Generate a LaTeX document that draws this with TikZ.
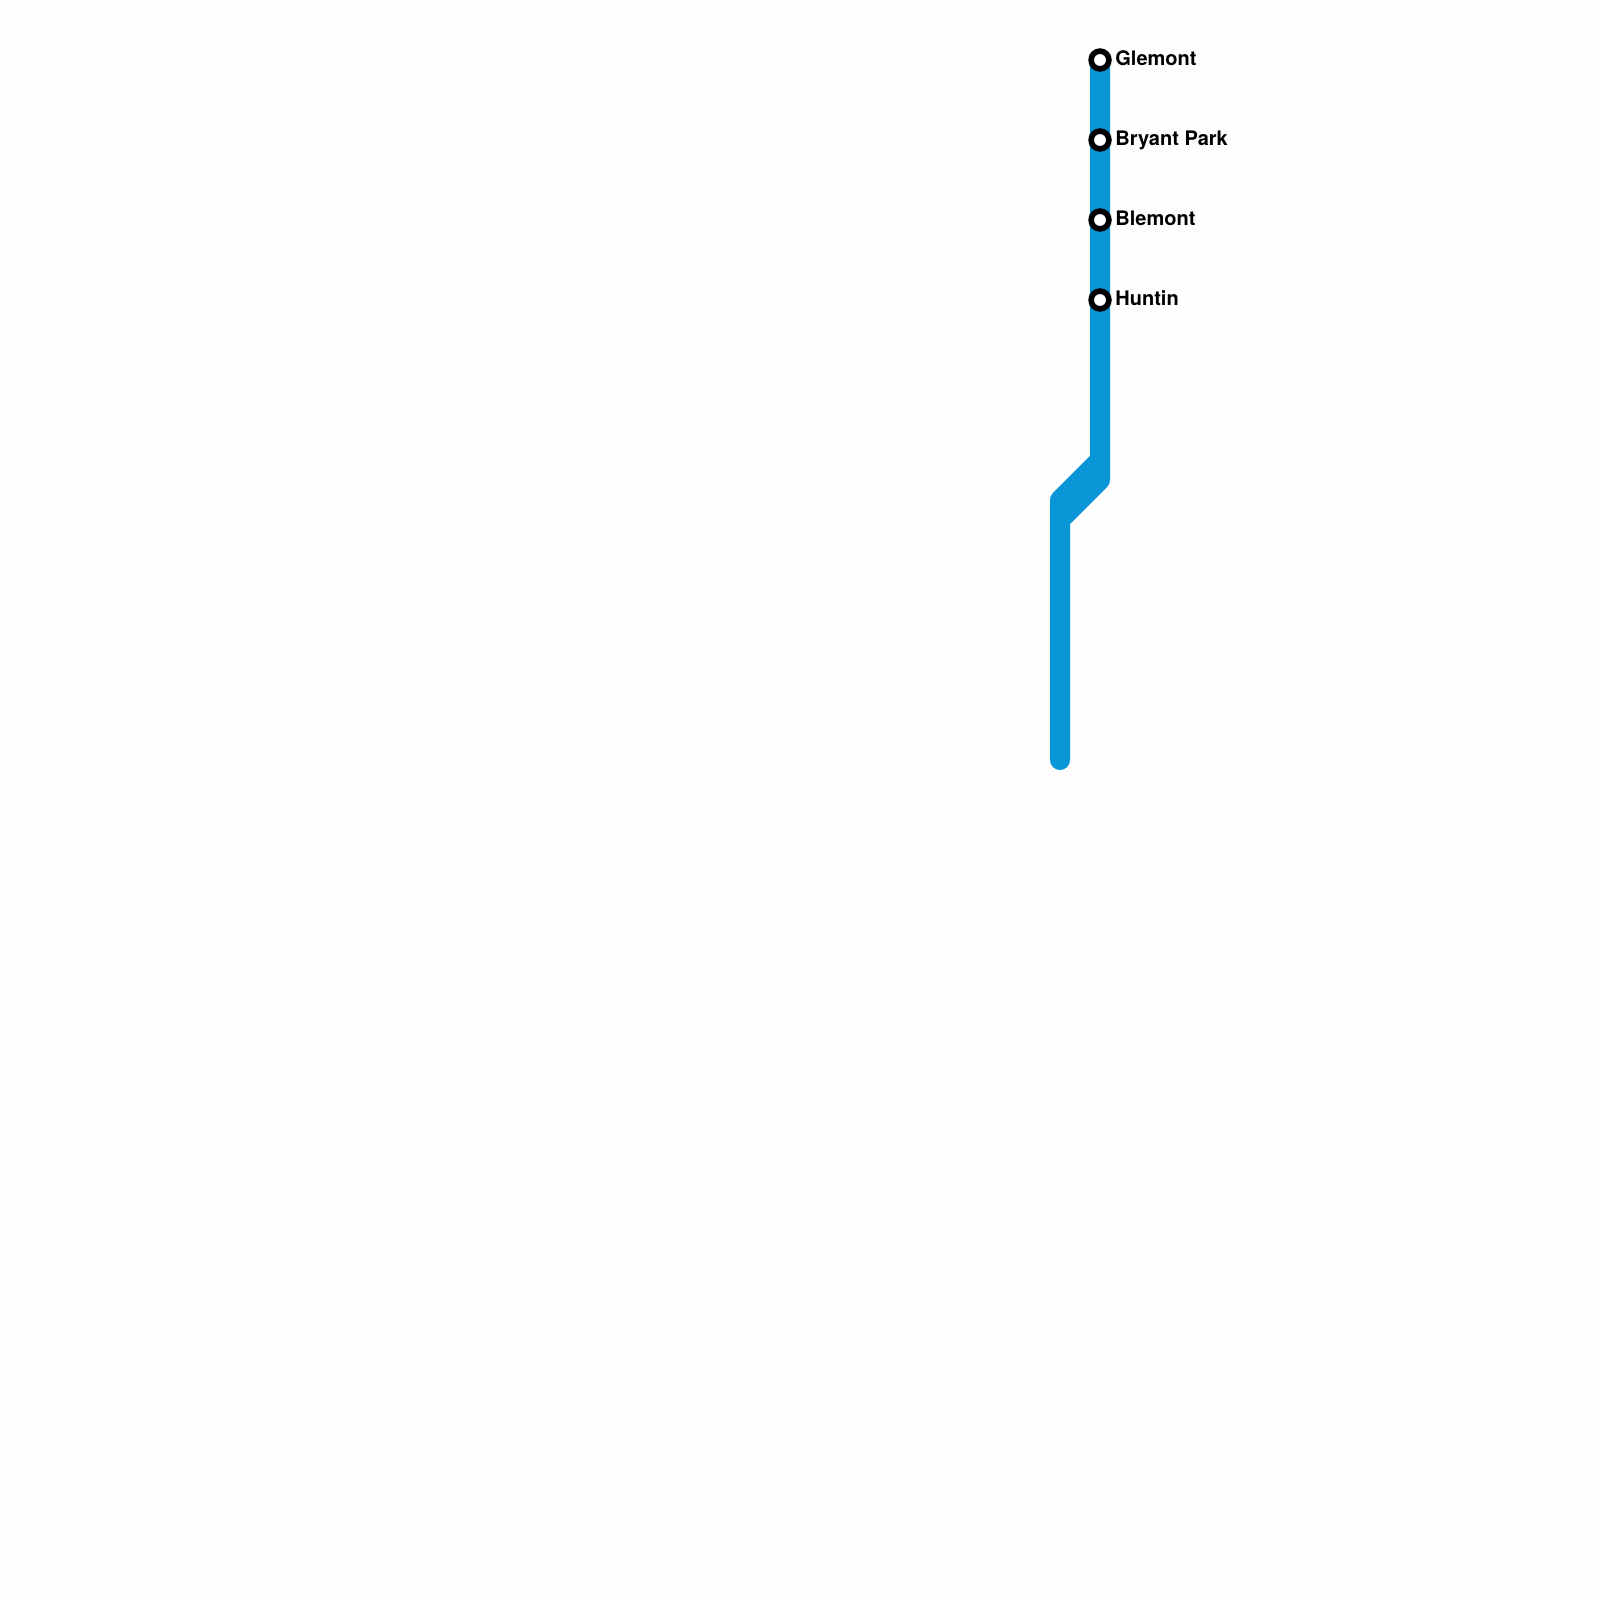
\documentclass[tikz,border=0pt]{standalone}
\usepackage{fontspec}
\setmainfont{TeX Gyre Heros}
\definecolor{cligne}{RGB}{8,150,215}
\definecolor{cfond}{RGB}{254,254,254}
\tikzset{
  ligne/.style={line width=0.2cm,cligne,line cap=round,line join=round},
  arret/.style={circle,draw=black,fill=white,line width=0.056cm,minimum size=0.178cm,inner sep=0pt,outer sep=0pt},
  nomarret/.style={anchor=base west,inner sep=0pt,font=\fontsize{5.69pt}{7pt}\selectfont\bfseries}
}
\begin{document}
\begin{tikzpicture}[x=0.01cm,y=-0.01cm]
\fill[cfond] (0,0) rectangle (1600,1600);
\useasboundingbox (0,0) rectangle (1600,1600);
\coordinate (Glemont) at (1100,60);
\coordinate (H1) at (1100,460); \coordinate (H2) at (1100,480);
\coordinate (B1) at (1060,500); \coordinate (B2) at (1060,520);
\coordinate (Fin) at (1060,760);
\draw[ligne] (Glemont) -- (H2) -- (B2) -- (Fin);
\draw[ligne] (H1) -- (B1) -- (B2);
\foreach \p/\lab/\y in {GL/Glemont/60,BP/Bryant Park/140,BL/Blemont/220,HU/Huntin/300}
  {\node[arret] (\p) at (1100,\y) {};
   \node[nomarret] (nom\p) at (1114.7,\y+5.2) {\lab};}
\end{tikzpicture}
\end{document}
